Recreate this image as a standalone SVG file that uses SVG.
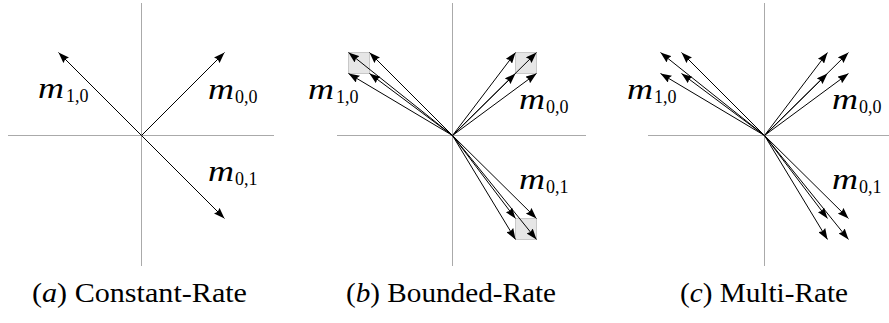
<svg xmlns="http://www.w3.org/2000/svg" width="889" height="323" viewBox="0 0 889 323">
<style>
.ax{stroke:#aaaaaa;stroke-width:1;fill:none}
.ar{stroke:#000;stroke-width:1;fill:none;marker-end:url(#ah)}
.box{fill:#e6e6e6;stroke:#c8c8c8;stroke-width:1}
.m{font-family:"Liberation Serif",serif;font-style:italic;font-size:29px;fill:#000}
.s{font-family:"Liberation Serif",serif;font-size:18px;fill:#000}
.cap{font-family:"Liberation Serif",serif;font-size:27px;fill:#000}
.it{font-style:italic}
</style>
<defs>
<marker id="ah" markerUnits="userSpaceOnUse" viewBox="0 0 11 8" markerWidth="11" markerHeight="8" refX="11" refY="4" orient="auto">
<path d="M0,0 L11,4 L0,8 L1.5,4 z" fill="#000"/>
</marker>
</defs>
<g id="axes">
<line class="ax" x1="141.5" y1="3" x2="141.5" y2="266"/>
<line class="ax" x1="8" y1="135.5" x2="274" y2="135.5"/>
<line class="ax" x1="452.5" y1="3" x2="452.5" y2="266"/>
<line class="ax" x1="337" y1="135.5" x2="586" y2="135.5"/>
<line class="ax" x1="764.5" y1="3" x2="764.5" y2="266"/>
<line class="ax" x1="648" y1="135.5" x2="889" y2="135.5"/>
</g>
<g id="regions">
<rect class="box" x="348.5" y="52.5" width="21" height="21"/>
<rect class="box" x="515.5" y="52.5" width="21" height="21"/>
<rect class="box" x="515.5" y="218.5" width="21" height="21"/>
</g>
<g id="connectors">
<line class="ar" x1="141.5" y1="135.5" x2="58.5" y2="52.5"/>
<line class="ar" x1="141.5" y1="135.5" x2="224.5" y2="52.5"/>
<line class="ar" x1="141.5" y1="135.5" x2="224.5" y2="218.5"/>

<line class="ar" x1="452.5" y1="135.5" x2="348.5" y2="52.5"/>
<line class="ar" x1="452.5" y1="135.5" x2="369.5" y2="52.5"/>
<line class="ar" x1="452.5" y1="135.5" x2="348.5" y2="73.5"/>
<line class="ar" x1="452.5" y1="135.5" x2="369.5" y2="73.5"/>
<line class="ar" x1="452.5" y1="135.5" x2="515.5" y2="52.5"/>
<line class="ar" x1="452.5" y1="135.5" x2="536.5" y2="52.5"/>
<line class="ar" x1="452.5" y1="135.5" x2="515.5" y2="73.5"/>
<line class="ar" x1="452.5" y1="135.5" x2="536.5" y2="73.5"/>
<line class="ar" x1="452.5" y1="135.5" x2="515.5" y2="218.5"/>
<line class="ar" x1="452.5" y1="135.5" x2="536.5" y2="218.5"/>
<line class="ar" x1="452.5" y1="135.5" x2="515.5" y2="239.5"/>
<line class="ar" x1="452.5" y1="135.5" x2="536.5" y2="239.5"/>

<line class="ar" x1="764.5" y1="135.5" x2="660.5" y2="52.5"/>
<line class="ar" x1="764.5" y1="135.5" x2="681.5" y2="52.5"/>
<line class="ar" x1="764.5" y1="135.5" x2="660.5" y2="73.5"/>
<line class="ar" x1="764.5" y1="135.5" x2="681.5" y2="73.5"/>
<line class="ar" x1="764.5" y1="135.5" x2="827.5" y2="52.5"/>
<line class="ar" x1="764.5" y1="135.5" x2="848.5" y2="52.5"/>
<line class="ar" x1="764.5" y1="135.5" x2="827.5" y2="73.5"/>
<line class="ar" x1="764.5" y1="135.5" x2="848.5" y2="73.5"/>
<line class="ar" x1="764.5" y1="135.5" x2="827.5" y2="218.5"/>
<line class="ar" x1="764.5" y1="135.5" x2="848.5" y2="218.5"/>
<line class="ar" x1="764.5" y1="135.5" x2="827.5" y2="239.5"/>
<line class="ar" x1="764.5" y1="135.5" x2="848.5" y2="239.5"/>
</g>
<g id="label-a-m10"><text class="m" x="38" y="98" textLength="26" lengthAdjust="spacingAndGlyphs">m</text><text class="s" x="66" y="102">1,0</text></g>
<g id="label-a-m00"><text class="m" x="208" y="99" textLength="26" lengthAdjust="spacingAndGlyphs">m</text><text class="s" x="235" y="103">0,0</text></g>
<g id="label-a-m01"><text class="m" x="208" y="181" textLength="26" lengthAdjust="spacingAndGlyphs">m</text><text class="s" x="235" y="185">0,1</text></g>

<g id="label-b-m10"><text class="m" x="308" y="99" textLength="26" lengthAdjust="spacingAndGlyphs">m</text><text class="s" x="336" y="103">1,0</text></g>
<g id="label-b-m00"><text class="m" x="519" y="109" textLength="26" lengthAdjust="spacingAndGlyphs">m</text><text class="s" x="546" y="113">0,0</text></g>
<g id="label-b-m01"><text class="m" x="519" y="189" textLength="26" lengthAdjust="spacingAndGlyphs">m</text><text class="s" x="546" y="193">0,1</text></g>

<g id="label-c-m10"><text class="m" x="627" y="99" textLength="26" lengthAdjust="spacingAndGlyphs">m</text><text class="s" x="654" y="103">1,0</text></g>
<g id="label-c-m00"><text class="m" x="832" y="109" textLength="26" lengthAdjust="spacingAndGlyphs">m</text><text class="s" x="859" y="113">0,0</text></g>
<g id="label-c-m01"><text class="m" x="832" y="189" textLength="26" lengthAdjust="spacingAndGlyphs">m</text><text class="s" x="859" y="193">0,1</text></g>

<g id="caption-a"><text class="cap" x="32" y="302" textLength="215" lengthAdjust="spacingAndGlyphs">(<tspan class="it">a</tspan>) Constant-Rate</text></g>
<g id="caption-b"><text class="cap" x="346" y="302" textLength="210" lengthAdjust="spacingAndGlyphs">(<tspan class="it">b</tspan>) Bounded-Rate</text></g>
<g id="caption-c"><text class="cap" x="680" y="302" textLength="168" lengthAdjust="spacingAndGlyphs">(<tspan class="it">c</tspan>) Multi-Rate</text></g>
</svg>
